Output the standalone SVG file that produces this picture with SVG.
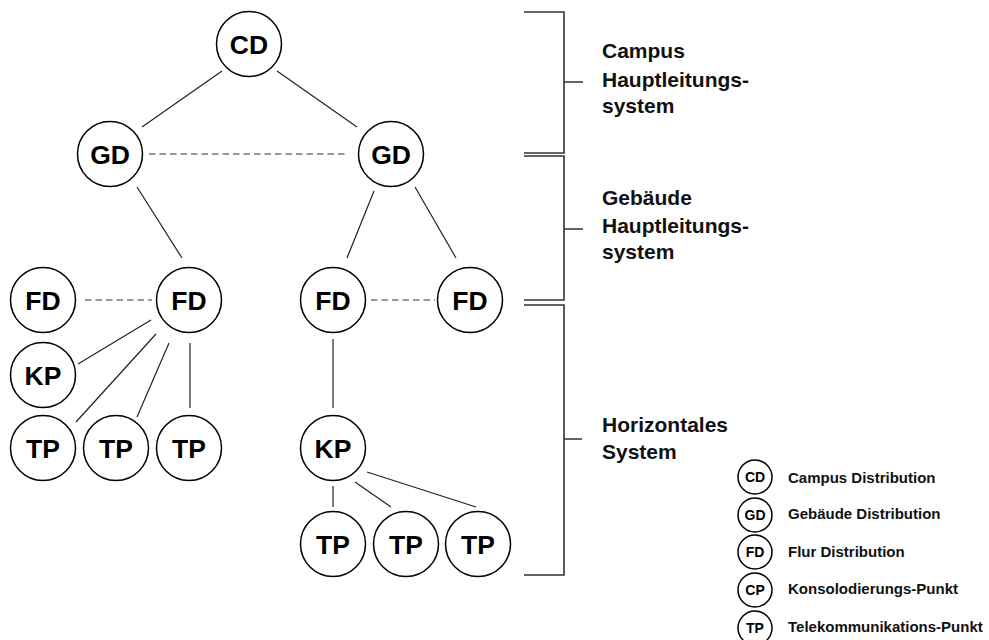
<svg xmlns="http://www.w3.org/2000/svg" width="989" height="640" viewBox="0 0 989 640">
<style>
.node circle{fill:#fff;stroke:#000;stroke-width:1.5}
.node text{font-family:"Liberation Sans",Arial,sans-serif;font-weight:bold;font-size:26.5px;text-anchor:middle;fill:#000}
.leg circle{fill:#fff;stroke:#000;stroke-width:1.5}
.leg text.c{font-family:"Liberation Sans",Arial,sans-serif;font-weight:bold;font-size:14px;text-anchor:middle;fill:#000}
.leg text.l{font-family:"Liberation Sans",Arial,sans-serif;font-weight:bold;font-size:15px;fill:#111}
.solid{stroke:#222;stroke-width:1.2;fill:none}
.dash{stroke:#333;stroke-width:1.2;stroke-dasharray:6.5 4;fill:none}
.br{stroke:#333;stroke-width:1.6;fill:none}
.lbl{font-family:"Liberation Sans",Arial,sans-serif;font-weight:bold;font-size:21px;fill:#111}
</style>
<g id="connectors">
<line class="solid" x1="222" y1="71" x2="142" y2="127"/>
<line class="solid" x1="277" y1="71" x2="357" y2="127"/>
<line class="dash" x1="149" y1="154" x2="348" y2="154"/>
<line class="solid" x1="137" y1="187" x2="182" y2="258"/>
<line class="solid" x1="374" y1="191" x2="347" y2="258"/>
<line class="solid" x1="415" y1="187" x2="456" y2="258"/>
<line class="dash" x1="85" y1="300" x2="152" y2="300"/>
<line class="dash" x1="371" y1="300" x2="435" y2="300"/>
<line class="solid" x1="151" y1="320" x2="78" y2="364"/>
<line class="solid" x1="156" y1="334" x2="76" y2="422"/>
<line class="solid" x1="169" y1="343" x2="137" y2="417"/>
<line class="solid" x1="190" y1="343" x2="190" y2="408"/>
<line class="solid" x1="333" y1="339" x2="333" y2="408"/>
<line class="solid" x1="333" y1="486" x2="333" y2="507"/>
<line class="solid" x1="355" y1="482" x2="391" y2="507"/>
<line class="solid" x1="367" y1="472" x2="476" y2="507"/>
</g>
<g id="brackets">
<path class="br" d="M524 12 H564 V153 H524 M564 82 H583"/>
<path class="br" d="M524 156 H564 V300 H524 M564 229 H583"/>
<path class="br" d="M524 305 H564 V575 H524 M564 439 H582"/>
</g>
<g id="labels">
<text class="lbl" x="602" y="58">Campus</text>
<text class="lbl" x="602" y="87">Hauptleitungs-</text>
<text class="lbl" x="602" y="113">system</text>
<text class="lbl" x="602" y="205">Gebäude</text>
<text class="lbl" x="602" y="233">Hauptleitungs-</text>
<text class="lbl" x="602" y="259">system</text>
<text class="lbl" x="602" y="432">Horizontales</text>
<text class="lbl" x="602" y="459">System</text>
</g>
<g id="n-cd" class="node"><circle cx="249" cy="44" r="32.5"/><text x="249" y="53.5">CD</text></g>
<g id="n-gd1" class="node"><circle cx="110" cy="154" r="32.5"/><text x="110" y="163.5">GD</text></g>
<g id="n-gd2" class="node"><circle cx="391" cy="154" r="32.5"/><text x="391" y="163.5">GD</text></g>
<g id="n-fd1" class="node"><circle cx="43" cy="300" r="32.5"/><text x="43" y="309.5">FD</text></g>
<g id="n-fd2" class="node"><circle cx="189" cy="300" r="32.5"/><text x="189" y="309.5">FD</text></g>
<g id="n-fd3" class="node"><circle cx="333" cy="300" r="32.5"/><text x="333" y="309.5">FD</text></g>
<g id="n-fd4" class="node"><circle cx="470" cy="300" r="32.5"/><text x="470" y="309.5">FD</text></g>
<g id="n-kp1" class="node"><circle cx="43" cy="375" r="32.5"/><text x="43" y="384.5">KP</text></g>
<g id="n-tp1" class="node"><circle cx="43" cy="448" r="32.5"/><text x="43" y="457.5">TP</text></g>
<g id="n-tp2" class="node"><circle cx="116" cy="448" r="32.5"/><text x="116" y="457.5">TP</text></g>
<g id="n-tp3" class="node"><circle cx="189" cy="448" r="32.5"/><text x="189" y="457.5">TP</text></g>
<g id="n-kp2" class="node"><circle cx="333" cy="448" r="32.5"/><text x="333" y="457.5">KP</text></g>
<g id="n-tp4" class="node"><circle cx="333" cy="544" r="32.5"/><text x="333" y="553.5">TP</text></g>
<g id="n-tp5" class="node"><circle cx="406" cy="544" r="32.5"/><text x="406" y="553.5">TP</text></g>
<g id="n-tp6" class="node"><circle cx="478" cy="544" r="32.5"/><text x="478" y="553.5">TP</text></g>
<g id="legend" class="leg">
<g id="leg-cd"><circle cx="755" cy="477" r="17"/><text class="c" x="755" y="482">CD</text><text class="l" x="788" y="483">Campus Distribution</text></g>
<g id="leg-gd"><circle cx="755" cy="515" r="17"/><text class="c" x="755" y="520">GD</text><text class="l" x="788" y="519">Gebäude Distribution</text></g>
<g id="leg-fd"><circle cx="755" cy="552" r="17"/><text class="c" x="755" y="557">FD</text><text class="l" x="788" y="557">Flur Distribution</text></g>
<g id="leg-cp"><circle cx="755" cy="590" r="17"/><text class="c" x="755" y="595">CP</text><text class="l" x="788" y="594">Konsolodierungs-Punkt</text></g>
<g id="leg-tp"><circle cx="755" cy="628" r="17"/><text class="c" x="755" y="633">TP</text><text class="l" x="788" y="632">Telekommunikations-Punkt</text></g>
</g>
</svg>
